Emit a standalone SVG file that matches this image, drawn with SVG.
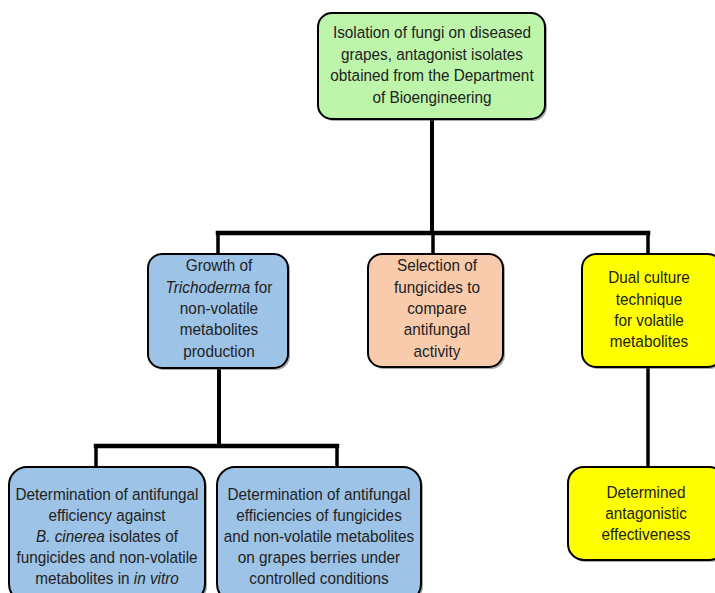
<svg xmlns="http://www.w3.org/2000/svg" width="715" height="593" viewBox="0 0 715 593">
<style>
.box{stroke:#000;stroke-width:2}
.sh{fill:#555;opacity:0.5}
.g{fill:#bdf5aa}
.b{fill:#9dc3e6}
.o{fill:#f8cbad}
.y{fill:#ffff00}
text{font-family:"Liberation Sans",Arial,sans-serif;font-size:16.3px;fill:#222;text-anchor:middle}
.i{font-style:italic}
.c{stroke:#000;fill:none;stroke-linecap:square}
</style>
<rect width="715" height="593" fill="#fff"/>
<g id="connectors">
<path class="c" stroke-width="4" d="M432 119V233"/>
<path class="c" stroke-width="4.5" d="M218 233H648"/>
<path class="c" stroke-width="3.5" d="M218 233V254M433 233V254M648 233V254"/>
<path class="c" stroke-width="4" d="M219 368V446"/>
<path class="c" stroke-width="4.5" d="M96 446H337"/>
<path class="c" stroke-width="3.5" d="M96 446V467M337 446V467"/>
<path class="c" stroke-width="3.5" d="M648 368V467"/>
</g>
<g id="n1">
<rect class="sh" x="320" y="15" width="227" height="106" rx="14"/>
<rect class="box g" x="318" y="13" width="227" height="106" rx="14"/>
<g transform="matrix(0.94,0,0,1,25.92,0)">
<text x="432" y="38.5">Isolation of fungi on diseased</text>
<text x="432" y="60">grapes, antagonist isolates</text>
<text x="432" y="81.5">obtained from the Department</text>
<text x="432" y="103">of Bioengineering</text>
</g>
</g>
<g id="n2">
<rect class="sh" x="150" y="256" width="140" height="114" rx="14"/>
<rect class="box b" x="148" y="254" width="140" height="114" rx="14"/>
<g transform="matrix(0.94,0,0,1,13.14,0)">
<text x="219" y="271.5">Growth of</text>
<text x="219" y="292.8"><tspan class="i">Trichoderma</tspan> for</text>
<text x="219" y="314">non-volatile</text>
<text x="219" y="335.5">metabolites</text>
<text x="219" y="357">production</text>
</g>
</g>
<g id="n3">
<rect class="sh" x="370" y="256" width="135" height="113" rx="14"/>
<rect class="box o" x="368" y="254" width="135" height="113" rx="14"/>
<g transform="matrix(0.94,0,0,1,26.22,0)">
<text x="437" y="271.5">Selection of</text>
<text x="437" y="292.8">fungicides to</text>
<text x="437" y="314">compare</text>
<text x="437" y="335.5">antifungal</text>
<text x="437" y="357">activity</text>
</g>
</g>
<g id="n4">
<rect class="sh" x="584" y="256" width="140" height="113" rx="14"/>
<rect class="box y" x="582" y="254" width="140" height="113" rx="14"/>
<g transform="matrix(0.94,0,0,1,38.94,0)">
<text x="649" y="283.5">Dual culture</text>
<text x="649" y="305">technique</text>
<text x="649" y="326.5">for volatile</text>
<text x="649" y="347">metabolites</text>
</g>
</g>
<g id="n5">
<rect class="sh" x="11" y="469" width="196" height="135" rx="18"/>
<rect class="box b" x="9" y="467" width="196" height="135" rx="18"/>
<g transform="matrix(0.94,0,0,1,6.42,0)">
<text x="107" y="500.5">Determination of antifungal</text>
<text x="107" y="521.5">efficiency against</text>
<text x="107" y="542.5"><tspan class="i">B. cinerea</tspan> isolates of</text>
<text x="107" y="563.5">fungicides and non-volatile</text>
<text x="107" y="584.5">metabolites in <tspan class="i">in vitro</tspan></text>
</g>
</g>
<g id="n6">
<rect class="sh" x="219" y="469" width="204" height="135" rx="18"/>
<rect class="box b" x="217" y="467" width="204" height="135" rx="18"/>
<g transform="matrix(0.94,0,0,1,19.14,0)">
<text x="319" y="500.5">Determination of antifungal</text>
<text x="319" y="521.5">efficiencies of fungicides</text>
<text x="319" y="542.5">and non-volatile metabolites</text>
<text x="319" y="563.5">on grapes berries under</text>
<text x="319" y="584.5">controlled conditions</text>
</g>
</g>
<g id="n7">
<rect class="sh" x="570" y="469" width="157" height="93" rx="16"/>
<rect class="box y" x="568" y="467" width="157" height="93" rx="16"/>
<g transform="matrix(0.94,0,0,1,38.76,0)">
<text x="646" y="498.5">Determined</text>
<text x="646" y="519.5">antagonistic</text>
<text x="646" y="540">effectiveness</text>
</g>
</g>
</svg>
